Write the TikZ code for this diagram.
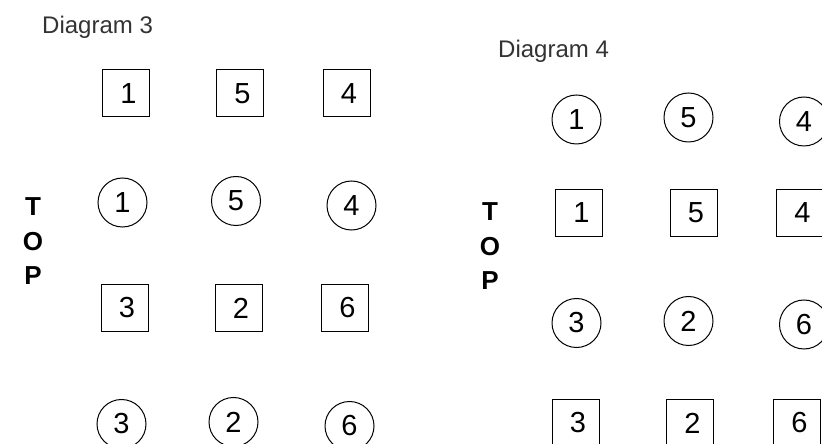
\documentclass[tikz,border=0pt]{standalone}
\usepackage{fontspec}
\setmainfont{Liberation Sans}
\begin{document}
\begin{tikzpicture}[x=1bp,y=-1bp,
  sq/.style={draw, line width=1bp, rectangle, minimum width=47bp, minimum height=47bp, inner sep=0pt,
    font=\fontsize{29bp}{32bp}\selectfont, execute at begin node={\hspace*{5bp}}},
  rnd/.style={draw, line width=1bp, circle, minimum size=49bp, inner sep=0pt,
    font=\fontsize{29bp}{32bp}\selectfont},
  title/.style={anchor=base west, inner sep=0pt, text=black!80, font=\fontsize{24bp}{28bp}\selectfont},
  topl/.style={anchor=base, inner sep=0pt, font=\fontsize{26bp}{28bp}\selectfont\bfseries}]
\useasboundingbox (0,0) rectangle (822,444);
\clip (0,0) rectangle (822,444);
\fill[white] (0,0) rectangle (822,444);
% Diagram 3
\node[title] (t3) at (42,34) {Diagram 3};
\node[sq] (a1) at (126,93.5) {1};
\node[sq] (a5) at (240,93.5) {5};
\node[sq] (a4) at (346.5,93.5) {4};
\node[rnd] (b1) at (122.5,202.5) {1};
\node[rnd] (b5) at (236,201) {5};
\node[rnd] (b4) at (351.5,205.5) {4};
\node[sq] (c3) at (124.5,308) {3};
\node[sq] (c2) at (238.5,308) {2};
\node[sq] (c6) at (345,308) {6};
\node[rnd] (d3) at (121.5,424) {3};
\node[rnd] (d2) at (233.5,422) {2};
\node[rnd] (d6) at (349.5,426) {6};
\node[topl] (lT) at (33,216) {T};
\node[topl] (lO) at (33,250.5) {O};
\node[topl] (lP) at (33,285) {P};
% Diagram 4
\node[title] (t4) at (498,58) {Diagram 4};
\node[rnd] (e1) at (576.5,119.5) {1};
\node[rnd] (e5) at (688.5,117.5) {5};
\node[rnd] (e4) at (804,121.5) {4};
\node[sq] (f1) at (579,213) {1};
\node[sq] (f5) at (693.5,213) {5};
\node[sq] (f4) at (800,213) {4};
\node[rnd] (g3) at (576.5,323) {3};
\node[rnd] (g2) at (688.5,321) {2};
\node[rnd] (g6) at (804,324.5) {6};
\node[sq] (h3) at (575.5,423) {3};
\node[sq] (h2) at (690,423) {2};
\node[sq] (h6) at (797,423) {6};
\node[topl] (rT) at (490,221) {T};
\node[topl] (rO) at (490,255.5) {O};
\node[topl] (rP) at (490,290) {P};
\end{tikzpicture}
\end{document}
